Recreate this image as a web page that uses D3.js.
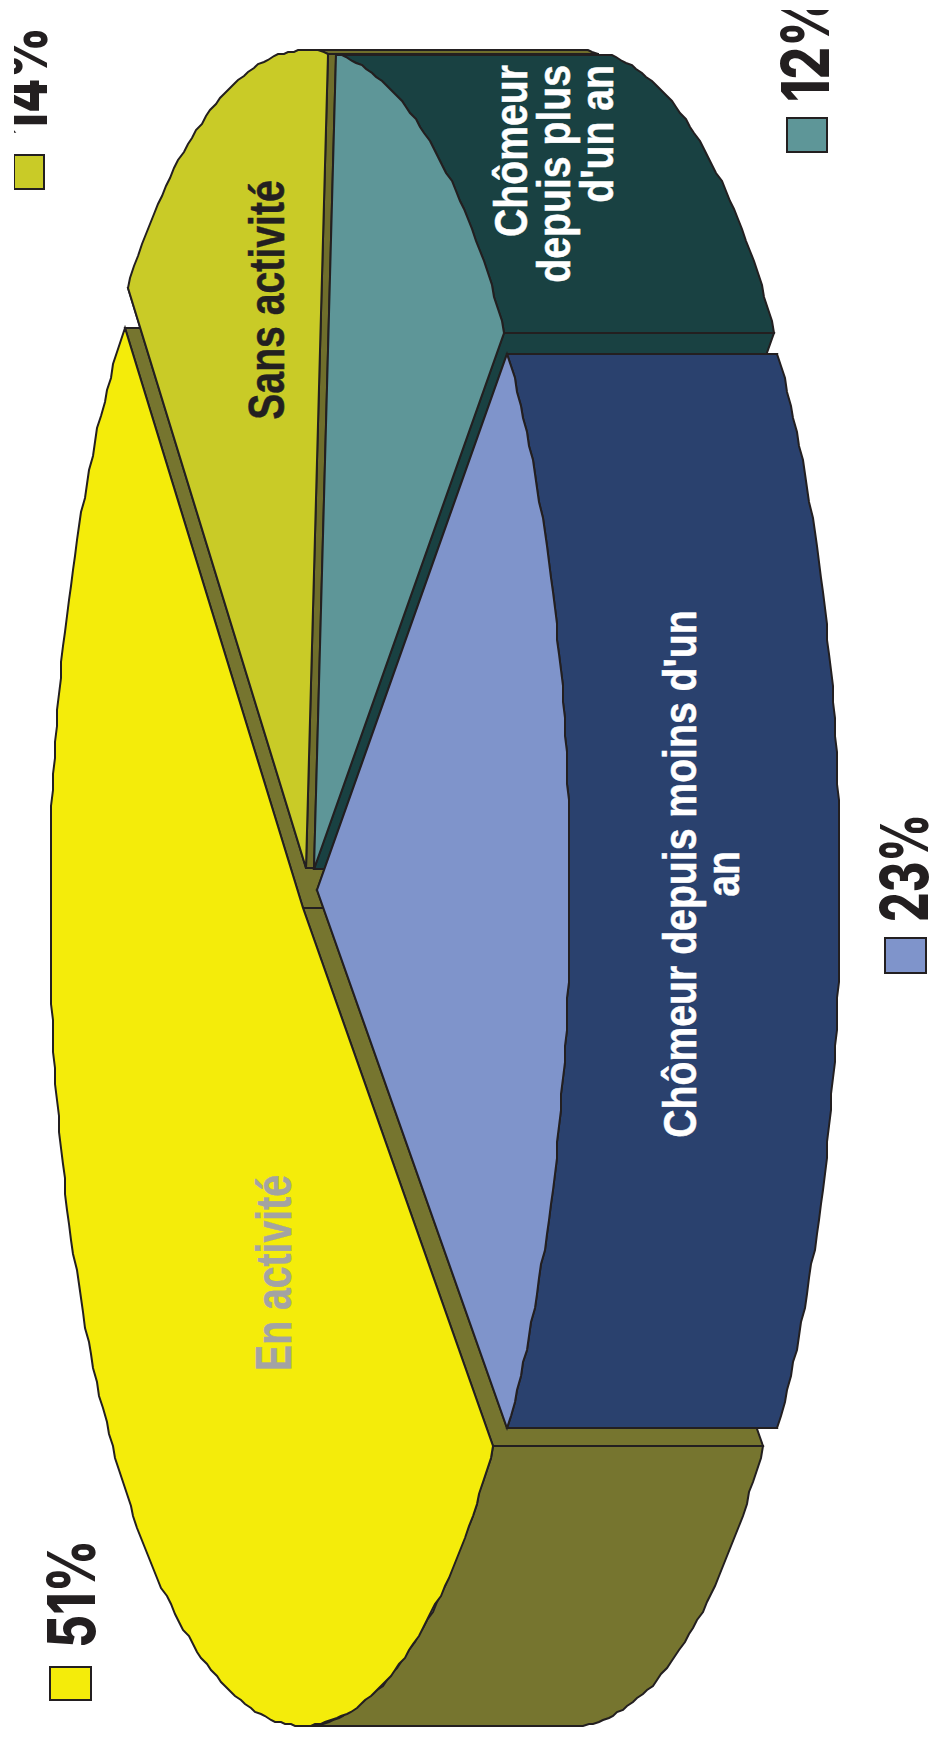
<!DOCTYPE html>
<html><head><meta charset="utf-8">
<style>html,body{margin:0;padding:0;background:#fff}svg{display:block}text{font-family:"Liberation Sans",Arial,sans-serif;font-weight:bold}</style>
<script src="https://cdnjs.cloudflare.com/ajax/libs/d3/7.8.5/d3.min.js"></script>
</head><body><script>
// ---- data ----
const categories = ["En activité","Sans activité","Chômeur depuis plus d'un an","Chômeur depuis moins d'un an"];
const shares = [51.1,13.9,12.2,22.8];
const percentLabels = ["51%","14%","12%","23%"];
const topColors = ["#f4ec0a","#c9cb27","#5e9698","#7f94cb"];
const wallColors = ["#76752f","#6f6e2b","#194142","#2a416e"];

// ---- layout ----
const W=931,H=1740,STROKE="#231f20";
const RX=253,RY=818,DEPTH=270,START=41.1,STEP=1.15,GRID=2;
const apex=[[303,908],[306,868],[314,869],[317,890]];
const sx=d3.scaleLinear().domain([-1,1]).range([-RX,RX]);
const sy=d3.scaleLinear().domain([-1,1]).range([-RY,RY]);
const rad=d=>d*Math.PI/180, deg=r=>r*180/Math.PI;
const snap=v=>Math.round(v/GRID)*GRID; // the source outline is slightly stepped

const svg=d3.select("body").append("svg").attr("width",W).attr("height",H);
svg.append("defs").append("clipPath").attr("id","page").append("rect")
  .attr("x",14).attr("y",10).attr("width",W-14).attr("height",H-10);
const root=svg.append("g").attr("clip-path","url(#page)");

const arcs=d3.pie().sort(null).value(d=>d)
  .startAngle(rad(START)).endAngle(rad(START+360))(shares);
const line=d3.line();
function pts(i,t0,t1,dx){
  const [ax,ay]=apex[i],out=[];
  const n=Math.max(1,Math.round(Math.abs(t1-t0)/STEP));
  for(let k=0;k<=n;k++){
    const t=rad(t0+(t1-t0)*k/n);
    out.push([ax+dx+snap(sx(Math.cos(t))),ay+snap(sy(Math.sin(t)))]);
  }
  return out;
}
const shape=(g,p,fill)=>g.append("path").attr("d",line(p)+"Z").attr("fill",fill)
  .attr("stroke",STROKE).attr("stroke-width",2).attr("stroke-linejoin","miter");

arcs.forEach((a,i)=>{
  const g=root.append("g").attr("class","slice");
  const t0=deg(a.startAngle),t1=deg(a.endAngle),[ax,ay]=apex[i];
  const c0=pts(i,t0,t0,0)[0],c1=pts(i,t1,t1,0)[0];
  // cut faces
  shape(g,[[ax,ay],c0,[c0[0]+DEPTH,c0[1]],[ax+DEPTH,ay]],wallColors[i]);
  shape(g,[[ax,ay],c1,[c1[0]+DEPTH,c1[1]],[ax+DEPTH,ay]],wallColors[i]);
  // outer wall: only the part that faces the viewer (cos>0)
  [[t0,t1],[t0+360,t1+360],[t0-360,t1-360]].forEach(([u,v])=>{
    const lo=Math.max(u,-90),hi=Math.min(v,90);
    if(hi>lo) shape(g,[...pts(i,lo,hi,0),...pts(i,hi,lo,DEPTH)],wallColors[i]);
  });
  // top face
  shape(g,[[ax,ay],...pts(i,t0,t1,0)],topColors[i]);
});

// ---- text ----
function label(str,x,y,size,scale,fill,anchor){
  root.append("text").text(str).attr("fill",fill).attr("stroke",fill).attr("stroke-width",.5)
    .attr("font-size",size).attr("text-anchor",anchor||"middle")
    .attr("transform",`translate(${x},${y}) rotate(-90) scale(${scale},1)`);
}
label("Sans activité",284,300,50,.784,"#231f20");
label("En activité",291,1273,50,.784,"#a3a3a3");
label("Chômeur depuis moins d'un",696,874,46,.852,"#fff");
label("an",739,874,46,.852,"#fff");
label("Chômeur",527,65,46,.852,"#fff","end");
label("depuis plus",570,65,46,.852,"#fff","end");
label("d'un an",613,65,46,.852,"#fff","end");

// ---- legend ----
const legend=[[50,1667,41,33,95,1594],[14,155,30,34,47,81],[787,118,40,34,829,48],[885,938,41,35,928,868]];
const PCT_LEN=108;
percentLabels.forEach((p,i)=>{
  const [x,y,w,h,tx,ty]=legend[i];
  root.append("rect").attr("x",x).attr("y",y).attr("width",w).attr("height",h)
    .attr("fill",topColors[i]).attr("stroke",STROKE).attr("stroke-width",2);
  const t=root.append("text").text(p).attr("fill","#231f20")
    .style("font-family","Inter").style("font-weight",800)
    .attr("font-size",66).attr("text-anchor","middle");
  const k=PCT_LEN/t.node().getComputedTextLength();
  t.attr("transform",`translate(${tx},${ty}) rotate(-90) scale(${k},1)`);
});
</script></body></html>
